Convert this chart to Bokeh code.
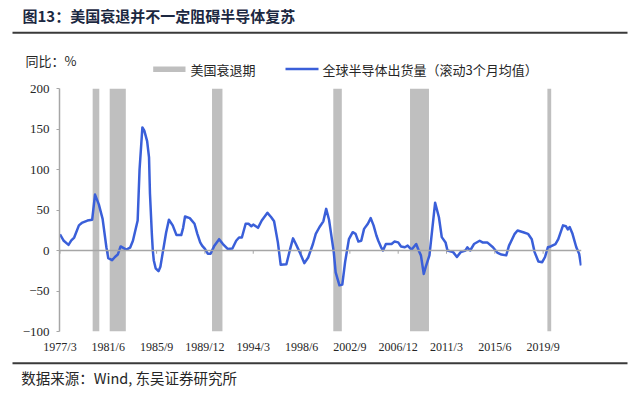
from bokeh.plotting import figure
from bokeh.layouts import column
from bokeh.models import Range1d, FixedTicker, Span
from bokeh.core.properties import value
from bokeh.embed import file_html
from bokeh.resources import INLINE

# ---------------- data ----------------
dates = ["1977-03", "1977-07", "1977-12", "1978-03", "1978-06", "1978-11", "1979-02", "1979-08",
         "1980-01", "1980-04", "1980-08", "1980-12", "1981-04", "1981-06", "1981-10", "1982-01",
         "1982-04", "1982-07", "1983-01", "1983-05", "1983-08", "1984-01", "1984-03", "1984-06",
         "1984-08", "1984-11", "1985-01", "1985-02", "1985-04", "1985-05", "1985-06", "1985-08",
         "1985-11", "1986-01", "1986-03", "1986-07", "1986-10", "1987-02", "1987-06", "1987-11",
         "1988-01", "1988-03", "1988-08", "1989-01", "1989-04", "1989-07", "1989-09", "1989-12",
         "1990-03", "1990-06", "1990-10", "1991-03", "1991-07", "1991-12", "1992-05", "1992-09",
         "1992-12", "1993-03", "1993-07", "1993-10", "1994-01", "1994-03", "1994-08", "1994-12",
         "1995-06", "1995-10", "1996-01", "1996-05", "1996-08", "1997-02", "1997-06", "1997-09",
         "1997-12", "1998-04", "1998-09", "1999-01", "1999-06", "1999-09", "2000-01", "2000-05",
         "2000-08", "2000-11", "2001-01", "2001-04", "2001-06", "2001-10", "2002-01", "2002-04",
         "2002-08", "2002-12", "2003-03", "2003-06", "2003-09", "2003-12", "2004-04", "2004-07",
         "2004-10", "2005-01", "2005-03", "2005-06", "2005-08", "2005-11", "2006-05", "2006-08",
         "2006-12", "2007-03", "2007-07", "2007-10", "2008-02", "2008-07", "2008-10", "2008-12",
         "2009-03", "2009-05", "2009-09", "2009-12", "2010-03", "2010-07", "2010-10", "2011-02",
         "2011-04", "2011-10", "2012-02", "2012-06", "2012-11", "2013-01", "2013-04", "2013-08",
         "2014-02", "2014-05", "2014-10", "2015-04", "2015-09", "2016-01", "2016-06", "2016-09",
         "2017-03", "2017-06", "2017-12", "2018-05", "2018-09", "2018-12", "2019-04", "2019-08",
         "2019-11", "2020-02", "2020-05", "2020-10", "2021-01", "2021-06", "2021-09", "2021-11",
         "2022-01", "2022-04", "2022-08", "2022-11", "2023-01"]
shipments_yoy = [20, 12, 7, 12.5, 16, 31, 34, 37,
                 38, 69, 57, 39, 4, -9.5, -12, -8,
                 -5, 5, 1, 3.5, 12, 37, 100, 152,
                 148, 135, 115, 70, 20, 0, -12, -22,
                 -25.5, -20, -6, 22, 38, 31, 19, 19,
                 28, 42, 40, 33, 20.6, 10, 6, 2,
                 -4, -4, 6, 14, 8, 2, 2.5, 12,
                 16, 16, 33, 33, 30, 32, 28, 37,
                 46.5, 41, 36, 10, -17.7, -17, 2, 15,
                 8, -2, -15.6, -8.6, 8, 20.6, 29, 36,
                 51.4, 38, 22, -2, -27, -43, -42, -14,
                 14, 22.6, 20.6, 11, 12, 26.7, 33, 40,
                 31, 18.5, 12, 4, 0, 8, 8, 11,
                 10, 5, 4, 6, 1, 8, -1, -6,
                 -29, -20.6, -6, 26.7, 59, 41, 16.5, 10,
                 0, -2, -8, -2, 0, 4, 0, 8,
                 12, 10, 10, 4, -3, -5, -6, 6,
                 20.6, 24.7, 22.6, 20.6, 14, -2, -13.6, -14.4,
                 -8, 4, 5, 8, 14, 31, 30, 26,
                 29, 20.6, 4, -4, -18.5]
recession_start = ["1980-02", "1981-08", "1990-08", "2001-04", "2008-01", "2020-02"]
recession_end = ["1980-08", "1982-12", "1991-06", "2001-12", "2009-08", "2020-05"]
x_tick_labels = ["1977/3", "1981/6", "1985/9", "1989/12", "1994/3", "1998/6",
                 "2002/9", "2006/12", "2011/3", "2015/6", "2019/9"]
y_ticks = [-100, -50, 0, 50, 100, 150, 200]

title_text = "图13：美国衰退并不一定阻碍半导体复苏"
unit_text = "同比：%"
legend_bar_text = "美国衰退期"
legend_line_text = "全球半导体出货量（滚动3个月均值）"
source_text = "数据来源：Wind, 东吴证券研究所"


def midx(s):
    y, m = s.replace("/", "-").split("-")
    return (int(y) - 1977) * 12 + int(m) - 3


# ---------------- styles ----------------
W = 632
H_HEAD, H_MAIN, H_FOOT = 80, 278, 31
SERIF = "Liberation Serif"
CJK = "Noto Sans CJK SC"
TXT = "#262626"
GRAY_AX = "#a6a6a6"
BAR = "#bfbfbf"
BLUE = "#3a5fd9"
RULE = "#3a3a3a"


def no_align(f):
    if "frame_align" in f.properties():
        f.frame_align = False


def blank(height):
    f = figure(width=W, height=height, output_backend="svg", toolbar_location=None,
               x_range=Range1d(0, W), y_range=Range1d(height, 0),
               x_axis_type=None, y_axis_type=None,
               min_border_left=0, min_border_right=0, min_border_top=0, min_border_bottom=0)
    f.title.visible = False
    f.xgrid.visible = False
    f.ygrid.visible = False
    f.outline_line_color = None
    f.border_fill_color = "white"
    f.background_fill_color = "white"
    no_align(f)
    return f


# ---------------- header ----------------
head = blank(H_HEAD)
head.text(x=[22], y=[15], text=[title_text], text_font=value(CJK), text_font_size=value("15px"),
          text_font_style="bold", text_color="#1c2841", text_baseline="middle", text_align="left")
head.quad(left=[12], right=[627], top=[31.3], bottom=[33.3], fill_color=RULE, line_color=None)
head.text(x=[25], y=[60], text=[unit_text], text_font=value(CJK), text_font_size=value("13px"),
          text_color=TXT, text_baseline="middle", text_align="left")
head.quad(left=[152.7], right=[185], top=[66], bottom=[71.5], fill_color=BAR, line_color=None)
head.text(x=[190], y=[68.5], text=[legend_bar_text], text_font=value(CJK),
          text_font_size=value("13px"), text_color=TXT, text_baseline="middle", text_align="left")
head.segment(x0=[285], x1=[318], y0=[68.5], y1=[68.5], line_color=BLUE, line_width=2.5)
head.text(x=[322], y=[68.5], text=[legend_line_text], text_font=value(CJK),
          text_font_size=value("13px"), text_color=TXT, text_baseline="middle", text_align="left")

# ---------------- main chart ----------------
p = figure(width=W, height=H_MAIN, output_backend="svg", toolbar_location=None,
           x_range=Range1d(-0.5, 550.5), y_range=Range1d(y_ticks[0], y_ticks[-1]),
           min_border_left=59, min_border_right=51, min_border_top=8, min_border_bottom=27)
p.title.visible = False
p.xgrid.visible = False
p.ygrid.visible = False
p.outline_line_color = None
p.background_fill_color = "white"
p.border_fill_color = "white"
no_align(p)

ya = p.yaxis[0]
ya.ticker = FixedTicker(ticks=y_ticks)
ya.axis_line_color = GRAY_AX
ya.axis_line_width = 1.5
ya.major_tick_line_color = GRAY_AX
ya.major_tick_out = 3
ya.major_tick_in = 0
ya.minor_tick_out = 0
ya.minor_tick_in = 0
ya.major_label_standoff = 7
ya.major_label_text_font = SERIF
ya.major_label_text_font_size = "13px"
ya.major_label_text_color = TXT

xa = p.xaxis[0]
tick_pos = [midx(l) for l in x_tick_labels]
xa.ticker = FixedTicker(ticks=tick_pos)
xa.major_label_overrides = {t: l for t, l in zip(tick_pos, x_tick_labels)}
xa.axis_line_color = None
xa.major_tick_out = 0
xa.major_tick_in = 0
xa.minor_tick_out = 0
xa.minor_tick_in = 0
xa.major_label_standoff = 8
xa.major_label_text_font = SERIF
xa.major_label_text_font_size = "12px"
xa.major_label_text_color = TXT

p.quad(left=[midx(s) - 0.5 for s in recession_start],
       right=[midx(e) + 0.5 for e in recession_end],
       bottom=y_ticks[0], top=y_ticks[-1],
       fill_color=BAR, line_color=None)

p.add_layout(Span(location=0, dimension="width", line_color=GRAY_AX, line_width=1.5))
p.segment(x0=tick_pos, x1=tick_pos, y0=0, y1=-4, line_color=GRAY_AX, line_width=1)

p.line([midx(d) for d in dates], shipments_yoy, line_color=BLUE, line_width=2.5,
       line_join="round")

# ---------------- footer ----------------
foot = blank(H_FOOT)
foot.quad(left=[12], right=[627], top=[3.7], bottom=[5.7], fill_color=RULE, line_color=None)
foot.text(x=[20.7], y=[18.7], text=[source_text], text_font=value(CJK),
          text_font_size=value("14.5px"), text_color=TXT, text_baseline="middle",
          text_align="left")

layout = column(head, p, foot, spacing=0)
open("out.html", "w").write(file_html(layout, INLINE))
